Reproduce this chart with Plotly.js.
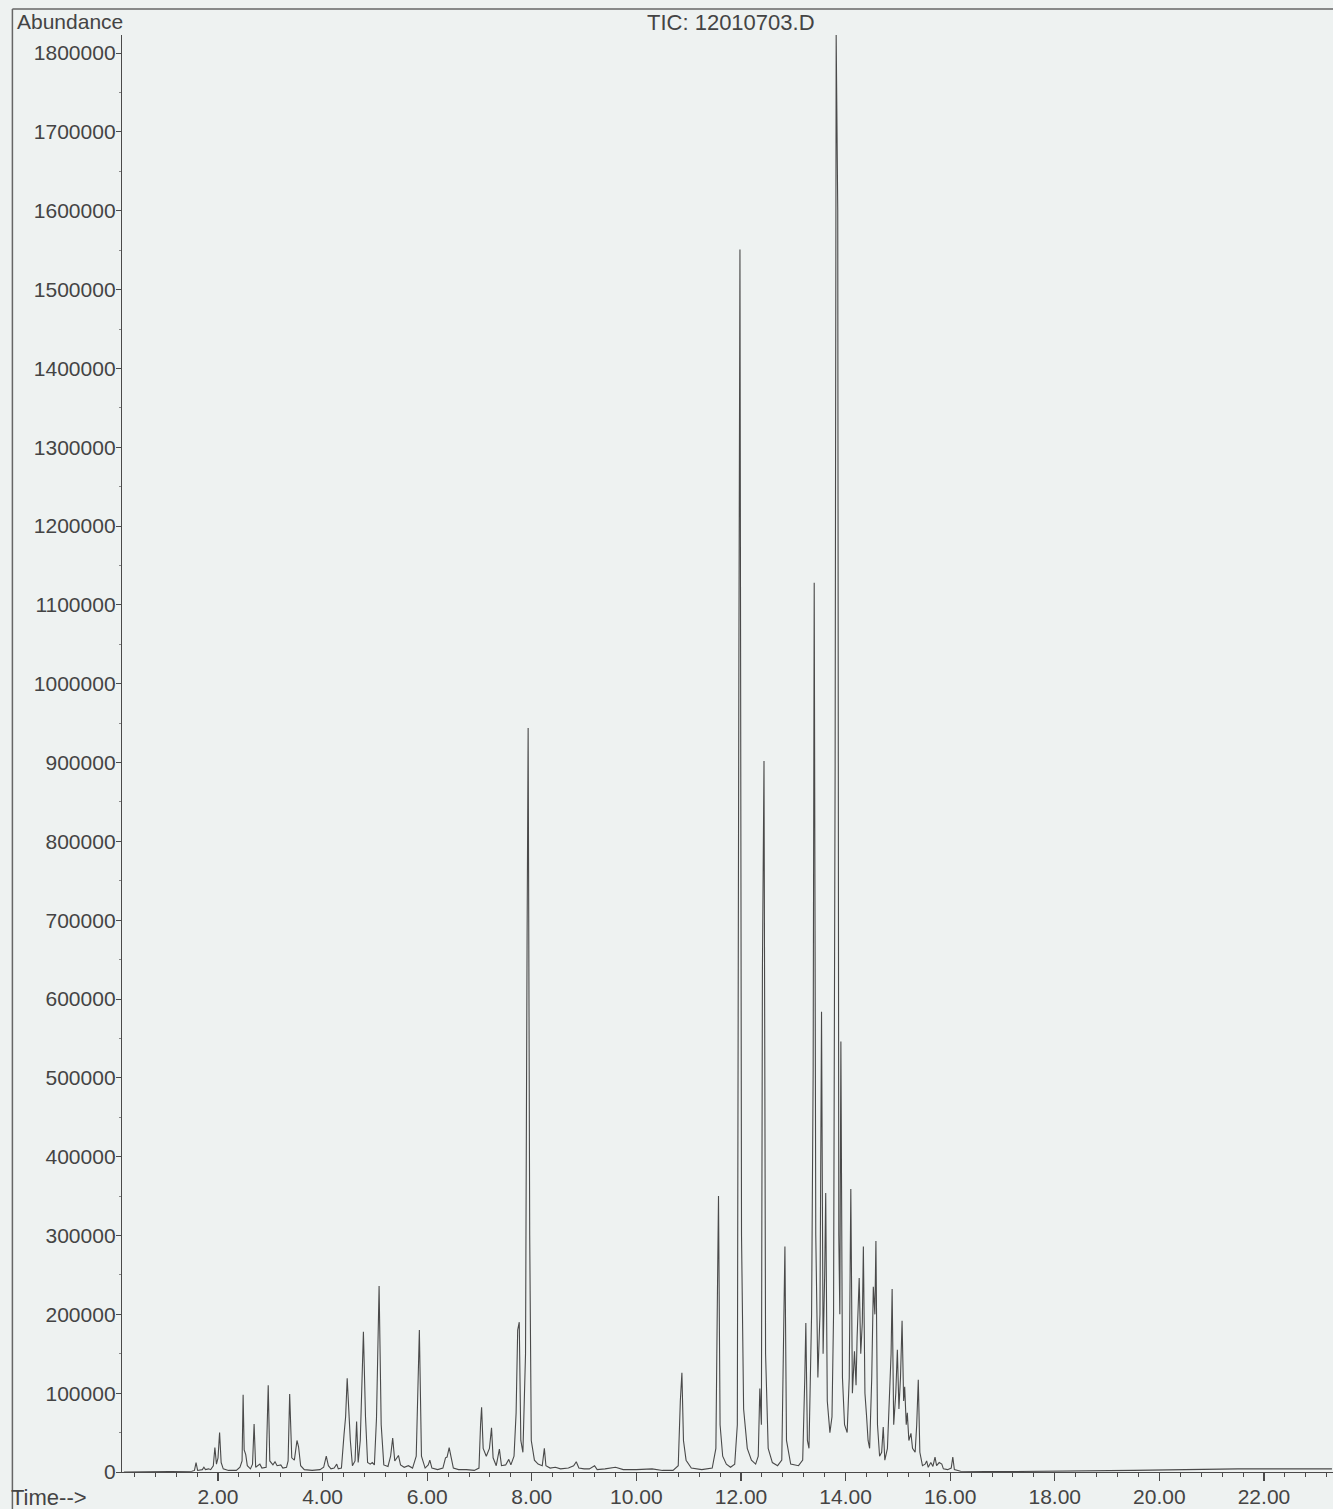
<!DOCTYPE html>
<html>
<head>
<meta charset="utf-8">
<script src="https://cdn.plot.ly/plotly-3.0.1.min.js"></script>
<style>html,body{margin:0;padding:0;background:#eef2f1;}#chart{width:1333px;height:1509px;}</style>
</head>
<body>
<div id="chart"></div>
<script>
// Retention time (min) of trace points
const time = [
 0.20, 1.50, 1.55, 1.58, 1.61, 1.70, 1.73, 1.76, 1.82, 1.86, 1.91, 1.94, 1.97, 2.00, 2.03, 2.06, 2.10, 2.20,
 2.35, 2.42, 2.46, 2.48, 2.50, 2.53, 2.56, 2.62, 2.66, 2.69, 2.72, 2.80, 2.84, 2.92, 2.96, 2.99, 3.05, 3.09,
 3.13, 3.20, 3.24, 3.31, 3.34, 3.37, 3.41, 3.46, 3.51, 3.54, 3.58, 3.65, 3.80, 3.95, 4.02, 4.07, 4.11, 4.16,
 4.22, 4.27, 4.30, 4.36, 4.41, 4.44, 4.47, 4.50, 4.53, 4.57, 4.62, 4.65, 4.68, 4.72, 4.78, 4.82, 4.86, 4.91,
 4.95, 4.99, 5.03, 5.08, 5.12, 5.17, 5.25, 5.30, 5.34, 5.38, 5.45, 5.49, 5.56, 5.64, 5.72, 5.79, 5.85, 5.89,
 5.96, 6.02, 6.05, 6.09, 6.20, 6.30, 6.35, 6.38, 6.42, 6.46, 6.50, 6.60, 6.75, 6.90, 6.99, 7.02, 7.04, 7.07,
 7.13, 7.19, 7.23, 7.26, 7.32, 7.38, 7.42, 7.50, 7.56, 7.60, 7.66, 7.70, 7.73, 7.76, 7.79, 7.83, 7.88, 7.91,
 7.93, 7.96, 7.99, 8.05, 8.12, 8.20, 8.24, 8.27, 8.35, 8.45, 8.55, 8.70, 8.80, 8.85, 8.90, 9.00, 9.10, 9.20,
 9.25, 9.40, 9.60, 9.75, 10.00, 10.30, 10.50, 10.70, 10.80, 10.84, 10.87, 10.90, 10.95, 11.05, 11.25, 11.45,
 11.52, 11.55, 11.57, 11.60, 11.65, 11.72, 11.80, 11.88, 11.93, 11.96, 11.98, 12.01, 12.05, 12.12, 12.20,
 12.28, 12.33, 12.36, 12.39, 12.41, 12.44, 12.47, 12.52, 12.60, 12.70, 12.78, 12.82, 12.84, 12.87, 12.95,
 13.10, 13.18, 13.22, 13.24, 13.27, 13.30, 13.35, 13.38, 13.40, 13.43, 13.47, 13.51, 13.54, 13.57, 13.60,
 13.62, 13.65, 13.70, 13.74, 13.77, 13.80, 13.82, 13.85, 13.87, 13.89, 13.91, 13.94, 13.98, 14.03, 14.07,
 14.10, 14.13, 14.17, 14.20, 14.22, 14.26, 14.29, 14.32, 14.34, 14.37, 14.40, 14.43, 14.46, 14.50, 14.53,
 14.56, 14.58, 14.61, 14.65, 14.69, 14.72, 14.75, 14.80, 14.84, 14.87, 14.89, 14.92, 14.96, 14.99, 15.02,
 15.05, 15.08, 15.11, 15.13, 15.16, 15.18, 15.21, 15.25, 15.28, 15.33, 15.36, 15.39, 15.42, 15.47, 15.52,
 15.55, 15.58, 15.63, 15.67, 15.71, 15.74, 15.79, 15.84, 15.87, 15.95, 16.02, 16.05, 16.08, 16.20, 17.00,
 18.50, 19.50, 20.50, 21.50, 23.30
];
// Total ion current abundance at each point
const abundance = [
 0, 1000, 2000, 12000, 2000, 3000, 6000, 3000, 4000, 3000, 8000, 31000, 10000, 18000, 50000, 12000, 4000, 2000,
 2000, 6000, 14000, 98000, 28000, 22000, 8000, 4000, 10000, 61000, 6000, 10000, 5000, 6000, 110000, 14000, 9000, 13000,
 8000, 9000, 5000, 6000, 14000, 99000, 18000, 15000, 40000, 32000, 8000, 3000, 2000, 3000, 6000, 20000, 8000, 4000,
 5000, 10000, 4000, 5000, 48000, 70000, 119000, 70000, 40000, 8000, 14000, 64000, 12000, 40000, 178000, 70000, 12000, 10000,
 12000, 9000, 68000, 236000, 60000, 9000, 7000, 20000, 43000, 14000, 21000, 9000, 6000, 8000, 5000, 20000, 180000, 20000,
 5000, 9000, 15000, 5000, 3000, 5000, 18000, 19000, 31000, 18000, 5000, 3000, 3000, 2000, 5000, 60000, 82000, 30000,
 20000, 30000, 56000, 18000, 8000, 29000, 8000, 9000, 16000, 9000, 20000, 75000, 180000, 190000, 40000, 25000, 150000, 680000,
 944000, 300000, 40000, 15000, 10000, 8000, 30000, 8000, 5000, 6000, 4000, 5000, 8000, 13000, 5000, 4000, 4000, 8000,
 3000, 4000, 6000, 3000, 3000, 4000, 2000, 2000, 8000, 90000, 126000, 40000, 15000, 5000, 3000, 5000,
 30000, 230000, 350000, 60000, 20000, 10000, 6000, 10000, 60000, 1040000, 1551000, 300000, 80000, 30000, 15000,
 10000, 20000, 106000, 60000, 640000, 902000, 150000, 30000, 12000, 8000, 15000, 180000, 286000, 40000, 10000,
 8000, 15000, 120000, 189000, 40000, 30000, 200000, 510000, 1128000, 300000, 120000, 200000, 584000, 150000, 250000,
 354000, 90000, 50000, 70000, 200000, 900000, 1823000, 1601000, 300000, 200000, 546000, 120000, 60000, 50000, 120000,
 359000, 100000, 153000, 110000, 170000, 246000, 150000, 190000, 286000, 100000, 72000, 40000, 30000, 120000, 235000,
 200000, 293000, 60000, 20000, 25000, 57000, 15000, 30000, 110000, 150000, 232000, 60000, 100000, 155000, 80000,
 120000, 192000, 90000, 108000, 60000, 75000, 40000, 49000, 30000, 25000, 60000, 117000, 25000, 8000, 10000,
 14000, 6000, 12000, 7000, 19000, 8000, 12000, 10000, 4000, 3000, 5000, 19000, 3000, 1000, 500,
 1000, 2000, 3000, 4000, 4000
];

const titleText = "TIC: 12010703.D";
const yLabel = "Abundance";
const xLabel = "Time-->";

const ink = "#4a4a4a";
const fontFam = "Liberation Sans, Arial, sans-serif";
const txt = "#444";

const trace = {
  x: time, y: abundance, type: "scatter", mode: "lines",
  line: {color: ink, width: 1.1, shape: "linear"},
  hoverinfo: "skip"
};

const layout = {
  width: 1333, height: 1509,
  margin: {l: 122, r: 0, t: 35, b: 37, pad: 0},
  paper_bgcolor: "#eef2f1", plot_bgcolor: "#eef2f1",
  showlegend: false,
  font: {family: fontFam, size: 21, color: txt},
  xaxis: {
    range: [0.164, 23.32], showgrid: false, zeroline: false,
    showline: true, linecolor: ink, linewidth: 1.2,
    tickmode: "linear", tick0: 0, dtick: 2, tickformat: ".2f",
    ticks: "outside", ticklen: 8, tickcolor: ink, tickwidth: 1.2,
    ticklabelstandoff: -2,
    minor: {ticks: "outside", tick0: 0, dtick: 0.4, ticklen: 4, tickcolor: ink, tickwidth: 1},
    tickfont: {family: fontFam, size: 21, color: txt}
  },
  yaxis: {
    range: [0, 1823000], showgrid: false, zeroline: false,
    showline: true, linecolor: ink, linewidth: 1.2,
    tickmode: "linear", tick0: 0, dtick: 100000, tickformat: "d",
    ticks: "outside", ticklen: 5, tickcolor: ink, tickwidth: 1,
    ticklabelstandoff: -4,
    minor: {ticks: "outside", tick0: 0, dtick: 50000, ticklen: 2, tickcolor: "#888", tickwidth: 1},
    tickfont: {family: fontFam, size: 21, color: txt}
  },
  annotations: [
    {text: titleText, xref: "paper", yref: "paper", x: 0.503, y: 1, xanchor: "center", yanchor: "middle",
     yshift: 13, showarrow: false, font: {family: fontFam, size: 22, color: txt}},
    {text: yLabel, xref: "paper", yref: "paper", x: -0.0885, y: 1, xanchor: "left", yanchor: "middle",
     yshift: 14, showarrow: false, font: {family: fontFam, size: 21, color: txt}},
    {text: xLabel, xref: "paper", yref: "paper", x: -0.093, y: 0, xanchor: "left", yanchor: "middle",
     yshift: -25, showarrow: false, font: {family: fontFam, size: 22, color: txt}}
  ],
  shapes: [
    {type: "line", xref: "paper", yref: "paper", x0: -0.0905, x1: 1.01, y0: 1.0181, y1: 1.0181,
     line: {color: "#666", width: 1.5}},
    {type: "line", xref: "paper", yref: "paper", x0: -0.0905, x1: -0.0905, y0: 1.0181, y1: -0.04,
     line: {color: "#666", width: 1.5}}
  ]
};

Plotly.newPlot("chart", [trace], layout, {staticPlot: true, displayModeBar: false});
</script>
</body>
</html>
